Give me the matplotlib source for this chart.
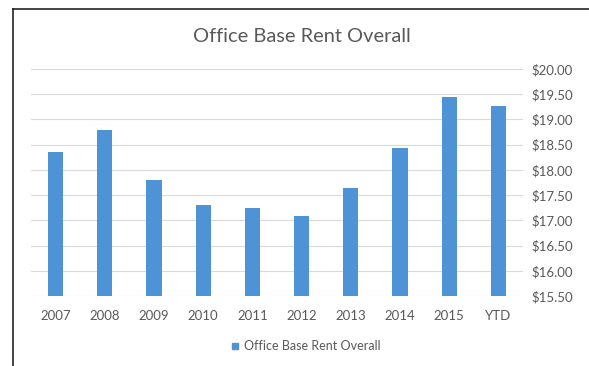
import matplotlib
matplotlib.use("Agg")
import matplotlib.pyplot as plt
from matplotlib.lines import Line2D
from matplotlib.ticker import FuncFormatter

plt.rcParams['font.family'] = ['Lato', 'DejaVu Sans']

categories = ["2007", "2008", "2009", "2010", "2011", "2012", "2013", "2014", "2015", "YTD"]
rent = [18.36, 18.79, 17.80, 17.30, 17.24, 17.09, 17.65, 18.44, 19.45, 19.26]
y_ticks = [15.5, 16.0, 16.5, 17.0, 17.5, 18.0, 18.5, 19.0, 19.5, 20.0]
series_name = "Office Base Rent Overall"

bar_color = "#4E93D6"
grid_color = "#DADADA"
text_color = "#595959"

fig = plt.figure(figsize=(5.89, 3.66), dpi=100)
ax = fig.add_axes([31 / 589, 70 / 366, 492 / 589, 227 / 366])

x = range(len(categories))
bottom = y_ticks[0]
ax.bar(x, [v - bottom for v in rent], bottom=bottom, width=0.31, color=bar_color, zorder=3)

ax.set_xlim(-0.5, len(categories) - 0.5)
ax.set_ylim(y_ticks[0], y_ticks[-1])
ax.set_yticks(y_ticks)
ax.yaxis.set_major_formatter(FuncFormatter(lambda v, p: f"${v:.2f}"))
ax.yaxis.tick_right()
ax.set_xticks(list(x))
ax.set_xticklabels(categories)
ax.tick_params(axis="y", length=0, pad=6, labelsize=9.5, labelcolor=text_color)
ax.tick_params(axis="x", length=0, pad=10, labelsize=9.5, labelcolor=text_color)
ax.grid(axis="y", color=grid_color, linewidth=0.8, zorder=0)
for s in ax.spines.values():
    s.set_visible(False)

fig.text(302 / 589, 1 - 37 / 366, series_name, ha="center", va="center",
         fontsize=14.4, color=text_color)

handle = Line2D([], [], marker="s", linestyle="none", markersize=5,
                markerfacecolor=bar_color, markeredgecolor=bar_color)
fig.legend([handle], [series_name], loc="center", bbox_to_anchor=(305 / 589, 1 - 346 / 366),
           frameon=False, fontsize=9, labelcolor=text_color, handletextpad=0.2,
           handlelength=1.0)

# chart frame edges (left and top)
fig.add_artist(Line2D([13 / 589, 13 / 589], [0, 1 - 9 / 366], transform=fig.transFigure,
                      color="#111111", linewidth=1.1))
fig.add_artist(Line2D([13 / 589, 1], [1 - 9 / 366, 1 - 9 / 366], transform=fig.transFigure,
                      color="#111111", linewidth=1.1))

fig.savefig("out.png", dpi=100, facecolor="white")
